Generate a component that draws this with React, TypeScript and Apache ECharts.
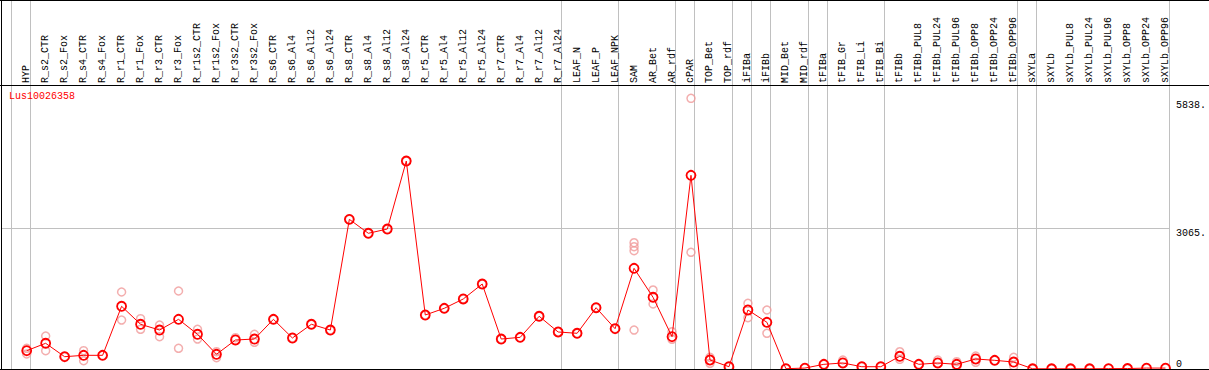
import React, { useEffect, useRef } from "react";
import * as echarts from "echarts";

const categories = [
  "HYP", "R_s2_CTR", "R_s2_Fox", "R_s4_CTR", "R_s4_Fox", "R_r1_CTR", "R_r1_Fox", "R_r3_CTR", "R_r3_Fox",
  "R_r1s2_CTR", "R_r1s2_Fox", "R_r3s2_CTR", "R_r3s2_Fox", "R_s6_CTR", "R_s6_Al4", "R_s6_Al12", "R_s6_Al24",
  "R_s8_CTR", "R_s8_Al4", "R_s8_Al12", "R_s8_Al24", "R_r5_CTR", "R_r5_Al4", "R_r5_Al12", "R_r5_Al24",
  "R_r7_CTR", "R_r7_Al4", "R_r7_Al12", "R_r7_Al24", "LEAF_N", "LEAF_P", "LEAF_NPK", "SAM", "AR_Bet", "AR_rdf",
  "cPAR", "TOP_Bet", "TOP_rdf", "iFIBa", "iFIBb", "MID_Bet", "MID_rdf", "tFIBa", "tFIB_Gr", "tFIB_Li", "tFIB_Bi",
  "tFIBb", "tFIBb_PUL8", "tFIBb_PUL24", "tFIBb_PUL96", "tFIBb_OPP8", "tFIBb_OPP24", "tFIBb_OPP96",
  "sXYLa", "sXYLb", "sXYLb_PUL8", "sXYLb_PUL24", "sXYLb_PUL96", "sXYLb_OPP8", "sXYLb_OPP24", "sXYLb_OPP96",
];

const meanValues = [
  399, 560, 268, 298, 298, 1366, 974, 849, 1082,
  756, 320, 632, 653, 1082, 675, 974, 849,
  3260, 2956, 3049, 4530, 1176, 1322, 1525, 1851,
  653, 690, 1148, 806, 778, 1335, 878, 2193, 1562, 704,
  4219, 196, 50, 1285, 1017, 7, 20, 102, 131, 50, 50,
  277, 102, 131, 102, 218, 189, 152,
  5, 5, 5, 5, 8, 10, 20, 20,
];

const replicateValues: number[][] = [
  [451, 327], [719, 399], [268], [399, 181], [298], [1677, 1067], [1096, 865], [958, 704], [1699, 451],
  [865, 653], [377, 246], [682], [756, 582], [1082], [675], [974], [849],
  [3260], [2956], [3049], [4530], [1176], [1322], [1525], [1851],
  [653], [690], [1148], [806], [778], [1335], [878], [2751, 2664, 2577, 849], [1721, 1416], [812, 647],
  [5896, 2542], [255, 124], [50], [1431, 1117], [1285, 778], [7], [20], [102], [196], [50], [50],
  [377, 211], [102], [196], [159, 50], [283, 146], [189], [255, 65],
  [5], [5], [5], [5], [8], [10], [20], [20],
];

const axisLabelValues = [3065, 5838];
const zeroLabelValues = [0];
const gridLineValues = [3065];
const separatorAfter = [
  "HYP", "R_r7_Al24", "LEAF_NPK", "AR_rdf", "cPAR", "TOP_rdf", "iFIBa", "iFIBb",
  "MID_rdf", "tFIBa", "tFIB_Bi", "tFIBb_OPP96", "sXYLa", "sXYLb_OPP96",
];
const titleText = "Lus10026358";

const FONT = "'Liberation Mono', 'DejaVu Sans Mono', monospace";
const Y_MAX = 6186;

export default function App() {
  const ref = useRef<HTMLDivElement>(null);

  useEffect(() => {
    document.body.style.margin = "0";
    const chart = echarts.init(ref.current!, null, { renderer: "svg" });

    const repData: [number, number][] = [];
    replicateValues.forEach((arr, i) => arr.forEach((v) => repData.push([i, v])));

    chart.setOption({
      animation: false,
      title: {
        text: titleText,
        left: 9,
        top: 91,
        padding: 0,
        textStyle: { color: "#ff0000", fontSize: 10, fontWeight: "normal", fontFamily: FONT },
      },
      grid: { left: 17.2, right: 31.6, top: 85, bottom: 1, containLabel: false },
      xAxis: {
        type: "category",
        data: categories,
        position: "top",
        boundaryGap: true,
        axisLine: { show: false },
        axisTick: { show: false },
        splitLine: { show: false },
        axisLabel: {
          interval: 0,
          rotate: 90,
          margin: 2,
          color: "#000",
          fontSize: 10,
          fontFamily: FONT,
        },
      },
      yAxis: [
        {
          type: "value",
          position: "right",
          min: 0,
          max: Y_MAX,
          axisLine: { show: false },
          axisTick: { show: false },
          splitLine: { show: false },
          axisLabel: {
            customValues: axisLabelValues,
            margin: 1,
            verticalAlign: "top",
            color: "#000",
            fontSize: 10,
            fontFamily: FONT,
            formatter: (v: number) => `${v}.`,
          },
        },
        {
          type: "value",
          position: "right",
          min: 0,
          max: Y_MAX,
          axisLine: { show: false },
          axisTick: { show: false },
          splitLine: { show: false },
          axisLabel: {
            customValues: zeroLabelValues,
            margin: 1,
            verticalAlign: "bottom",
            color: "#000",
            fontSize: 10,
            fontFamily: FONT,
            formatter: (v: number) => `${v}`,
          },
        },
      ],
      series: [
        {
          type: "scatter",
          name: "replicates",
          data: repData,
          symbol: "circle",
          symbolSize: 8,
          itemStyle: { color: "rgba(0,0,0,0)", borderColor: "#f09a9a", borderWidth: 1.5 },
          z: 2,
        },
        {
          type: "line",
          name: titleText,
          data: meanValues,
          symbol: "circle",
          symbolSize: 9,
          showAllSymbol: true,
          lineStyle: { color: "#ff0000", width: 1 },
          itemStyle: { color: "rgba(0,0,0,0)", borderColor: "#ff0000", borderWidth: 1.8 },
          z: 3,
        },
      ],
    });

    const px = (name: string) => chart.convertToPixel({ xAxisIndex: 0 }, name) as number;
    const py = (v: number) => chart.convertToPixel({ yAxisIndex: 0 }, v) as number;
    const band = px(categories[1]) - px(categories[0]);
    const off = band * 0.16;
    const sepXs = [px(categories[0]) - band + off, ...separatorAfter.map((n) => px(n) + off)].map(
      (x) => Math.round(x) + 0.5
    );
    const W = 1209;
    const zeroY = Math.round(py(0)) + 0.5;
    const headerY = 85.5;
    const rightX = sepXs[sepXs.length - 1];

    const grey = { stroke: "#c0c0c0", lineWidth: 1 };
    const black = { stroke: "#000", lineWidth: 1 };
    const elements: any[] = [];
    sepXs.forEach((x) =>
      elements.push({ type: "line", z: 0, shape: { x1: x, y1: 0, x2: x, y2: zeroY }, style: grey })
    );
    gridLineValues.forEach((v) => {
      const y = Math.round(py(v)) + 0.5;
      elements.push({ type: "line", z: 0, shape: { x1: 1.5, y1: y, x2: rightX, y2: y }, style: grey });
    });
    elements.push({ type: "line", z: 0, shape: { x1: 0, y1: 0.5, x2: W, y2: 0.5 }, style: black });
    elements.push({ type: "line", z: 0, shape: { x1: 0, y1: headerY, x2: W, y2: headerY }, style: black });
    elements.push({ type: "line", z: 0, shape: { x1: 1.5, y1: 0, x2: 1.5, y2: zeroY }, style: black });
    elements.push({ type: "line", z: 100, shape: { x1: 0, y1: zeroY, x2: W, y2: zeroY }, style: black });

    chart.setOption({ graphic: { elements } });

    return () => chart.dispose();
  }, []);

  return <div ref={ref} style={{ width: 1209, height: 370, overflow: "hidden" }} />;
}
